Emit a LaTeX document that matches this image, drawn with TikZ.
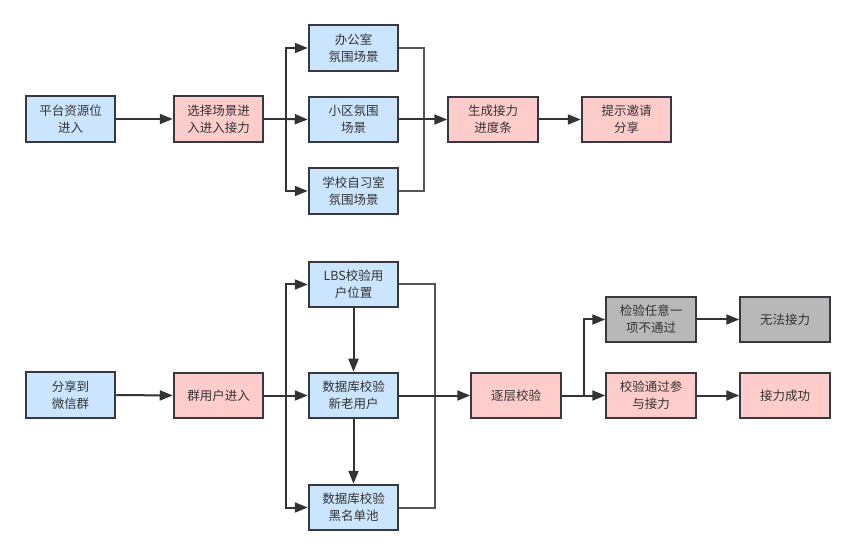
\documentclass[tikz,border=0pt]{standalone}
\usepackage{fontspec}
\setmainfont{Noto Sans CJK SC}
\usetikzlibrary{arrows.meta}
\definecolor{bluef}{HTML}{CCE5FF}
\definecolor{pinkf}{HTML}{FFCCCC}
\definecolor{grayf}{HTML}{B8B8B8}
\definecolor{edge}{HTML}{36393D}
\definecolor{txt}{HTML}{333333}
\definecolor{lineg}{HTML}{333333}
\definecolor{mergeg}{HTML}{555555}
\tikzset{
  box/.style={draw=edge, line width=2pt, minimum width=89.5pt, minimum height=45.5pt,
    inner sep=0pt, align=center, text=txt, font=\fontsize{12.5}{17}\selectfont},
  bluebox/.style={box, fill=bluef},
  pinkbox/.style={box, fill=pinkf},
  graybox/.style={box, fill=grayf},
  conn/.style={draw=lineg, line width=2pt, -{Triangle[length=13pt,width=10pt]}},
  plain/.style={draw=lineg, line width=2pt},
  merge/.style={draw=mergeg, line width=2pt},
}
\begin{document}
\begin{tikzpicture}[x=1pt,y=-1pt]
\useasboundingbox[fill=white] (0,0) rectangle (855,556);
% top row
\node[bluebox] (a1) at (70.5,119) {平台资源位\\进入};
\node[pinkbox] (a2) at (218.5,119) {选择场景进\\入进入接力};
\node[bluebox] (a3) at (353.5,48) {办公室\\氛围场景};
\node[bluebox] (a4) at (353.5,119.5) {小区氛围\\场景};
\node[bluebox] (a5) at (353.5,191) {学校自习室\\氛围场景};
\node[pinkbox] (a6) at (493,119.5) {生成接力\\进度条};
\node[pinkbox] (a7) at (626.5,119.5) {提示邀请\\分享};
\coordinate (ta) at (286,119);
\coordinate (tm) at (424,119.5);
\draw[conn] (a1) -- (a2);
\draw[plain] (a2.east) -- (ta);
\draw[conn] (ta) |- (a3.west);
\draw[conn] (ta) -- (a4.west);
\draw[conn] (ta) |- (a5.west);
\draw[merge] (a3.east) -| (tm);
\draw[merge] (a5.east) -| (tm);
\draw[conn] (a4.east) -- (a6.west);
\draw[conn] (a6) -- (a7);
% bottom
\node[bluebox] (b1) at (70.5,395) {分享到\\微信群};
\node[pinkbox] (b2) at (218.5,395.5) {群用户进入};
\node[bluebox] (b3) at (353.5,284.5) {LBS校验用\\户位置};
\node[bluebox] (b4) at (353.5,395.5) {数据库校验\\新老用户};
\node[bluebox] (b5) at (353.5,507.5) {数据库校验\\黑名单池};
\node[pinkbox] (b6) at (516,395.5) {逐层校验};
\node[graybox] (b7) at (651,319.5) {检验任意一\\项不通过};
\node[pinkbox] (b8) at (651,395.5) {校验通过参\\与接力};
\node[graybox] (b9) at (785,319.5) {无法接力};
\node[pinkbox] (b10) at (785,395.5) {接力成功};
\coordinate (ba) at (286,395.5);
\coordinate (bm) at (435,395.5);
\coordinate (bc) at (583.5,395.5);
\draw[conn] (b1.east) -- (b2.west);
\draw[plain] (b2.east) -- (ba);
\draw[conn] (ba) |- (b3.west);
\draw[conn] (ba) -- (b4.west);
\draw[conn] (ba) |- (b5.west);
\draw[conn] (b3) -- (b4);
\draw[conn] (b4) -- (b5);
\draw[merge] (b3.east) -| (bm);
\draw[merge] (b5.east) -| (bm);
\draw[conn] (b4.east) -- (b6.west);
\draw[plain] (b6.east) -- (bc);
\draw[conn] (bc) |- (b7.west);
\draw[conn] (bc) -- (b8.west);
\draw[conn] (b7) -- (b9);
\draw[conn] (b8) -- (b10);
\end{tikzpicture}
\end{document}
